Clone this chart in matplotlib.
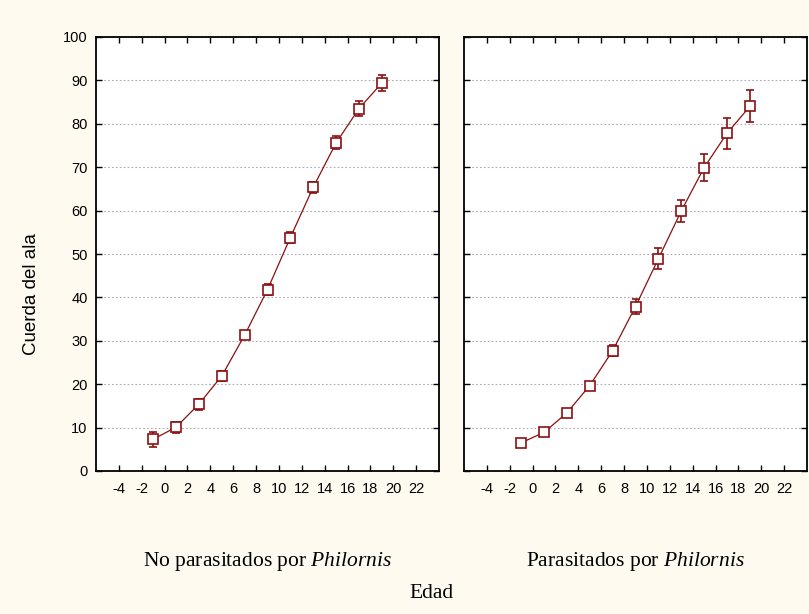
import matplotlib.pyplot as plt

plt.rcParams['axes.unicode_minus'] = False
plt.rcParams['mathtext.fontset'] = 'custom'
plt.rcParams['mathtext.rm'] = 'Liberation Serif'
plt.rcParams['mathtext.it'] = 'Liberation Serif:italic'

# age (days) and wing chord means / errors
edad = [-1, 1, 3, 5, 7, 9, 11, 13, 15, 17, 19]

no_paras = [7.3, 10.1, 15.4, 21.9, 31.3, 41.8, 53.8, 65.4, 75.6, 83.5, 89.4]
no_paras_err = [1.7, 1.3, 1.3, 1.1, 1.0, 1.2, 1.2, 1.3, 1.5, 1.7, 1.9]

paras = [6.5, 8.9, 13.4, 19.7, 27.7, 37.9, 48.9, 59.9, 69.9, 77.8, 84.0]
paras_err = [0.5, 0.4, 0.4, 0.7, 1.3, 1.7, 2.4, 2.6, 3.1, 3.5, 3.7]

paneles = ['No parasitados por', 'Parasitados por']
xticks = list(range(-4, 23, 2))
yticks = list(range(0, 101, 10))

rojo = '#8b1010'
fondo = '#fefaef'

fig = plt.figure(figsize=(8.09, 6.14), dpi=100, facecolor=fondo)
ax1 = fig.add_axes([96 / 809, 1 - 471 / 614, 343 / 809, 434 / 614])
ax2 = fig.add_axes([464 / 809, 1 - 471 / 614, 343 / 809, 434 / 614])

for ax, y, err, titulo in [(ax1, no_paras, no_paras_err, paneles[0]),
                           (ax2, paras, paras_err, paneles[1])]:
    ax.errorbar(edad, y, yerr=err, color=rojo, lw=0.9, elinewidth=1.2,
                capsize=3, capthick=1.2, marker='s', ms=7.5,
                mfc='white', mec=rojo, mew=1.2, zorder=3)
    ax.set_xlim(-6, 24)
    ax.set_ylim(0, 100)
    ax.set_xticks(xticks)
    ax.set_yticks(yticks)
    ax.yaxis.grid(True, ls=(0, (1.5, 2)), color='#b0a8b8', lw=0.8)
    ax.set_axisbelow(True)
    ax.tick_params(direction='in', top=True, right=True, length=4,
                   width=1, labelsize=10.5, colors='black', pad=8)
    ax.tick_params(axis='y', pad=6)
    for s in ax.spines.values():
        s.set_linewidth(1.3)
    for lab in ax.get_xticklabels() + ax.get_yticklabels():
        lab.set_family('Liberation Sans')
    ax.text(0.5, -0.208, titulo + ' $\\it{Philornis}$', transform=ax.transAxes,
            ha='center', va='center', fontsize=15.5, family='Liberation Serif')

ax2.tick_params(labelleft=False)

ax1.set_ylabel('Cuerda del ala', fontsize=13.5, family='Liberation Sans')
ax1.yaxis.set_label_coords(-0.163, 0.408)
fig.text(432 / 809, 1 - 593 / 614, 'Edad', ha='center', va='center',
         fontsize=15.5, family='Liberation Serif')

fig.savefig('out.png', dpi=100, facecolor=fondo)
